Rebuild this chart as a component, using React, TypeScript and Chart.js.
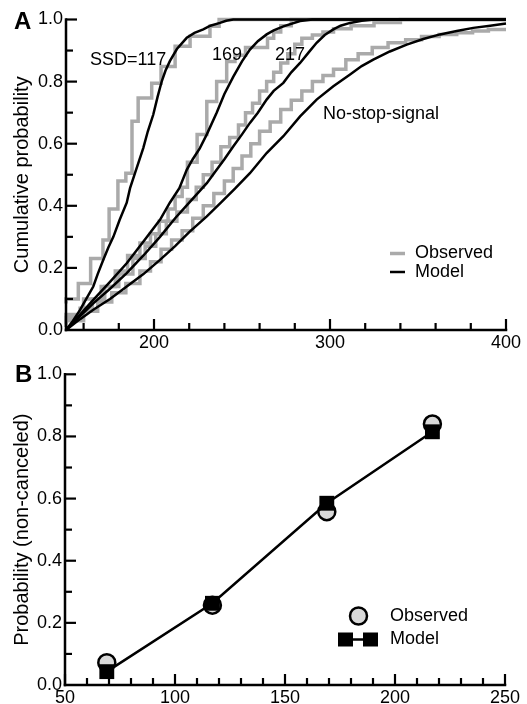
import React, { useEffect, useRef } from 'react';
import { Chart, registerables } from 'chart.js';

Chart.register(...registerables);

const FONT = '"Liberation Sans", Arial, Helvetica, sans-serif';
const GRAY = '#aaaaaa';
const LIGHT = '#d9d9d9';

// ---------- Panel A: cumulative RT distributions ----------
const rtModel117 = [150, 154, 158, 161.5, 165.5, 168, 171.2, 174, 176.9, 180.5, 184.5, 186.4, 189.2, 193.9, 196.5, 199.6, 202, 204.4, 206.5, 209, 213, 218.6, 223, 228, 232, 237.5, 241, 245, 400];
const pModel117 = [0, 0.03, 0.065, 0.1, 0.14, 0.18, 0.226, 0.265, 0.3, 0.355, 0.41, 0.457, 0.505, 0.586, 0.64, 0.694, 0.75, 0.801, 0.835, 0.866, 0.905, 0.941, 0.957, 0.968, 0.98, 0.989, 0.996, 1, 1];

const rtModel169 = [150, 158, 165.5, 175, 184.5, 194, 203.4, 209, 214.4, 218.6, 222, 226, 230, 235.6, 240, 245, 250, 254.5, 259, 264, 268, 273.5, 283, 290, 400];
const pModel169 = [0, 0.05, 0.097, 0.155, 0.215, 0.285, 0.355, 0.41, 0.457, 0.516, 0.55, 0.585, 0.63, 0.7, 0.76, 0.815, 0.865, 0.903, 0.93, 0.952, 0.965, 0.978, 0.995, 1, 1];

const rtModel217 = [150, 158, 165.5, 175, 184.5, 194, 203.4, 212, 220, 230, 235.6, 240, 245, 250, 254.5, 259, 264, 268, 273.5, 278, 283, 288, 292.4, 297, 301.9, 306, 311.4, 318, 325, 400];
const pModel217 = [0, 0.045, 0.086, 0.133, 0.183, 0.24, 0.3, 0.36, 0.41, 0.473, 0.516, 0.55, 0.591, 0.63, 0.667, 0.7, 0.742, 0.77, 0.796, 0.83, 0.86, 0.895, 0.925, 0.95, 0.968, 0.98, 0.989, 0.996, 1, 1];

const rtModelNoStop = [150, 158, 165.5, 175, 184.5, 194, 203.4, 212, 220, 230, 238, 246, 254.5, 264, 273.5, 283, 292.4, 301.9, 311.4, 318, 324.6, 334, 343.6, 353, 362.5, 372, 381.4, 391, 400];
const pModelNoStop = [0, 0.035, 0.065, 0.1, 0.14, 0.18, 0.226, 0.27, 0.315, 0.366, 0.41, 0.455, 0.505, 0.57, 0.624, 0.688, 0.742, 0.785, 0.823, 0.85, 0.871, 0.897, 0.919, 0.937, 0.952, 0.963, 0.973, 0.98, 0.987];

const rtObs117 = [150, 157, 164, 171, 174.5, 179.5, 184, 187.5, 191, 198.7, 204, 212, 220.5, 231.8, 237, 249, 400];
const pObs117 = [0.085, 0.1, 0.15, 0.23, 0.29, 0.39, 0.48, 0.505, 0.672, 0.747, 0.795, 0.849, 0.914, 0.946, 0.978, 1, 1];

const rtObs169 = [150, 160, 170, 178, 185, 192, 198, 203, 208, 212, 216, 219, 224.5, 230, 235.6, 241.3, 246, 252, 264.5, 268, 272, 278, 285, 400];
const pObs169 = [0.02, 0.05, 0.1, 0.14, 0.19, 0.24, 0.28, 0.31, 0.35, 0.39, 0.43, 0.46, 0.54, 0.63, 0.736, 0.8, 0.865, 0.885, 0.91, 0.94, 0.96, 0.98, 1, 1];

const rtObs217 = [150, 158, 165, 172, 180, 188, 195, 201, 207, 213, 219, 224, 228, 233, 238, 243, 248, 252, 256, 260, 264, 268, 272, 276, 280, 284, 290, 296, 302, 312, 325, 340, 360, 400];
const pObs217 = [0.02, 0.04, 0.07, 0.1, 0.14, 0.18, 0.23, 0.27, 0.31, 0.35, 0.38, 0.42, 0.46, 0.5, 0.54, 0.59, 0.62, 0.66, 0.7, 0.73, 0.77, 0.8, 0.83, 0.86, 0.89, 0.92, 0.94, 0.95, 0.96, 0.97, 0.98, 0.99, 1, 1];

const rtObsNoStop = [150, 160, 168, 176, 184, 192, 198, 204, 210, 216, 222, 228, 234, 240, 245, 250, 255, 260, 266, 272, 278, 284, 290, 296, 302, 309, 316, 324, 333, 343, 352, 362, 372, 381, 390, 400];
const pObsNoStop = [0.01, 0.03, 0.06, 0.09, 0.12, 0.15, 0.19, 0.22, 0.26, 0.29, 0.32, 0.36, 0.4, 0.44, 0.48, 0.52, 0.56, 0.6, 0.64, 0.67, 0.71, 0.74, 0.77, 0.8, 0.82, 0.84, 0.87, 0.89, 0.91, 0.925, 0.935, 0.945, 0.952, 0.957, 0.963, 0.968];

const xTicksA = [200, 300, 400];
const curveLabels = ['SSD=117', '169', '217', 'No-stop-signal'];
const curveLabelX = [163.6, 233, 268.8, 296];
const curveLabelY = [0.871, 0.887, 0.887, 0.694];

// ---------- Panel B: probability of non-canceled ----------
const ssd = [69, 117, 169, 217];
const pObserved = [0.072, 0.257, 0.558, 0.84];
const pModel = [0.043, 0.263, 0.585, 0.815];

const pts = (xs: number[], ys: number[]) => xs.map((x, i) => ({ x, y: ys[i] }));

function range(a: number, b: number, s: number) {
  const out: number[] = [];
  for (let v = a; v <= b + 1e-9; v += s) out.push(Math.round(v * 1000) / 1000);
  return out;
}

function drawAxes(chart: any, xMin: number, xMax: number, xMinor: number[], xMajorStep: number, yMinor: number[], yMajorStep: number) {
  const ctx: CanvasRenderingContext2D = chart.ctx;
  const xs = chart.scales.x;
  const ys = chart.scales.y;
  const L = xs.getPixelForValue(xMin);
  const R = xs.getPixelForValue(xMax);
  const B = ys.getPixelForValue(0);
  const T = ys.getPixelForValue(1);
  ctx.save();
  ctx.setLineDash([]);
  ctx.globalAlpha = 1;
  ctx.strokeStyle = '#000000';
  ctx.lineWidth = 2.5;
  ctx.lineCap = 'butt';
  ctx.beginPath();
  ctx.moveTo(L, T - 1.25);
  ctx.lineTo(L, B + 1.25);
  ctx.stroke();
  ctx.beginPath();
  ctx.moveTo(L - 1.25, B);
  ctx.lineTo(R + 1.25, B);
  ctx.stroke();
  ctx.lineWidth = 2.2;
  for (const v of yMinor) {
    if (v === 0) continue;
    const major = Math.abs(v / yMajorStep - Math.round(v / yMajorStep)) < 1e-6;
    const y = ys.getPixelForValue(v);
    ctx.beginPath();
    ctx.moveTo(L, y);
    ctx.lineTo(L + (major ? 11 : 7), y);
    ctx.stroke();
  }
  for (const v of xMinor) {
    const major = Math.abs(v / xMajorStep - Math.round(v / xMajorStep)) < 1e-6;
    const x = xs.getPixelForValue(v);
    ctx.beginPath();
    ctx.moveTo(x, B);
    ctx.lineTo(x, B - (major ? 11 : 7));
    ctx.stroke();
  }
  ctx.restore();
}

function baseScales(xMin: number, xMax: number, yWidth: number, xHeight: number, title: string) {
  return {
    x: {
      type: 'linear',
      min: xMin,
      max: xMax,
      grid: { display: false, drawTicks: false },
      border: { display: false },
      ticks: { color: '#000', font: { family: FONT, size: 18 }, padding: 2, maxRotation: 0 },
      afterFit: (s: any) => { s.height = xHeight; },
    },
    y: {
      type: 'linear',
      min: 0,
      max: 1,
      grid: { display: false, drawTicks: false },
      border: { display: false },
      ticks: {
        stepSize: 0.2,
        color: '#000',
        font: { family: FONT, size: 18 },
        padding: 3,
        callback: (v: any) => Number(v).toFixed(1),
      },
      title: { display: true, text: title, color: '#000', font: { family: FONT, size: 20 }, padding: { top: 10, bottom: 0 } },
      afterFit: (s: any) => { s.width = yWidth; },
    },
  };
}

function PanelA() {
  const ref = useRef<HTMLCanvasElement>(null);
  useEffect(() => {
    const model = (xs: number[], ys: number[]) => ({
      data: pts(xs, ys), borderColor: '#000', borderWidth: 2.5, pointRadius: 0, tension: 0, clip: false as any,
    });
    const obs = (xs: number[], ys: number[]) => ({
      data: pts(xs, ys), borderColor: GRAY, borderWidth: 3.5, pointRadius: 0, stepped: 'after', clip: false as any,
    });
    const scales: any = baseScales(150, 400, 66, 22, 'Cumulative probability');
    scales.x.afterBuildTicks = (s: any) => { s.ticks = xTicksA.map((v) => ({ value: v })); };
    const overlay = {
      id: 'overlayA',
      afterDraw(chart: any) {
        drawAxes(chart, 150, 400, range(160, 400, 20), 100, range(0, 1, 0.1), 0.2);
        const ctx = chart.ctx;
        const sc = chart.scales;
        ctx.save();
        ctx.fillStyle = '#000';
        ctx.font = `18px ${FONT}`;
        ctx.textBaseline = 'middle';
        ctx.textAlign = 'left';
        curveLabels.forEach((t, i) => {
          ctx.fillText(t, sc.x.getPixelForValue(curveLabelX[i]), sc.y.getPixelForValue(curveLabelY[i]));
        });
        ctx.lineWidth = 3.5;
        ctx.strokeStyle = GRAY;
        ctx.beginPath(); ctx.moveTo(390, 253.5); ctx.lineTo(405, 253.5); ctx.stroke();
        ctx.lineWidth = 2.5;
        ctx.strokeStyle = '#000';
        ctx.beginPath(); ctx.moveTo(390, 272); ctx.lineTo(405, 272); ctx.stroke();
        ctx.fillText('Observed', 415, 253.5);
        ctx.fillText('Model', 415, 272);
        ctx.font = `bold 24px ${FONT}`;
        ctx.textBaseline = 'alphabetic';
        ctx.fillText('A', 14, 29);
        ctx.restore();
      },
    };
    const chart = new Chart(ref.current as HTMLCanvasElement, {
      type: 'line',
      data: {
        datasets: [
          model(rtModel117, pModel117),
          model(rtModel169, pModel169),
          model(rtModel217, pModel217),
          model(rtModelNoStop, pModelNoStop),
          obs(rtObs117, pObs117),
          obs(rtObs169, pObs169),
          obs(rtObs217, pObs217),
          obs(rtObsNoStop, pObsNoStop),
        ] as any,
      },
      options: {
        animation: false,
        responsive: false,
        layout: { padding: { top: 19.5, right: 21, bottom: 0, left: 0 } },
        plugins: { legend: { display: false }, tooltip: { enabled: false } },
        scales,
      } as any,
      plugins: [overlay],
    });
    return () => chart.destroy();
  }, []);
  return <canvas ref={ref} width={527} height={352} style={{ position: 'absolute', left: 0, top: 0 }} />;
}

function PanelB() {
  const ref = useRef<HTMLCanvasElement>(null);
  useEffect(() => {
    const scales: any = baseScales(50, 250, 65, 19, 'Probability (non-canceled)');
    scales.x.ticks.stepSize = 50;
    const overlay = {
      id: 'overlayB',
      afterDraw(chart: any) {
        drawAxes(chart, 50, 250, range(50, 250, 10), 50, range(0, 1, 0.1), 0.2);
        const ctx = chart.ctx;
        ctx.save();
        ctx.fillStyle = '#000';
        ctx.font = `18px ${FONT}`;
        ctx.textBaseline = 'middle';
        ctx.textAlign = 'left';
        ctx.beginPath();
        ctx.arc(358.5, 264, 8.5, 0, Math.PI * 2);
        ctx.fillStyle = LIGHT;
        ctx.fill();
        ctx.lineWidth = 2.5;
        ctx.strokeStyle = '#000';
        ctx.stroke();
        ctx.fillStyle = '#000';
        ctx.beginPath(); ctx.moveTo(345, 287.5); ctx.lineTo(371, 287.5); ctx.stroke();
        ctx.fillRect(338, 280.5, 15, 14);
        ctx.fillRect(363, 280.5, 15, 14);
        ctx.fillText('Observed', 390, 264);
        ctx.fillText('Model', 390, 287.5);
        ctx.font = `bold 24px ${FONT}`;
        ctx.textBaseline = 'alphabetic';
        ctx.fillText('B', 15, 30);
        ctx.restore();
      },
    };
    const chart = new Chart(ref.current as HTMLCanvasElement, {
      type: 'line',
      data: {
        datasets: [
          {
            data: pts(ssd, pModel), borderColor: '#000', borderWidth: 2.5, tension: 0,
            pointStyle: 'rect', pointRadius: 10.5, pointBackgroundColor: '#000', pointBorderColor: '#000', pointBorderWidth: 0,
            clip: false,
          },
          {
            data: pts(ssd, pObserved), showLine: false,
            pointStyle: 'circle', pointRadius: 8.5, pointBackgroundColor: LIGHT, pointBorderColor: '#000', pointBorderWidth: 2.5,
            clip: false,
          },
        ] as any,
      },
      options: {
        animation: false,
        responsive: false,
        layout: { padding: { top: 22.3, right: 22, bottom: 0, left: 0 } },
        plugins: { legend: { display: false }, tooltip: { enabled: false } },
        scales,
      } as any,
      plugins: [overlay],
    });
    return () => chart.destroy();
  }, []);
  return <canvas ref={ref} width={527} height={352} style={{ position: 'absolute', left: 0, top: 352 }} />;
}

export default function App() {
  return (
    <div style={{ position: 'absolute', left: 0, top: 0, width: 527, height: 704, background: '#fff', overflow: 'hidden' }}>
      <PanelA />
      <PanelB />
    </div>
  );
}
